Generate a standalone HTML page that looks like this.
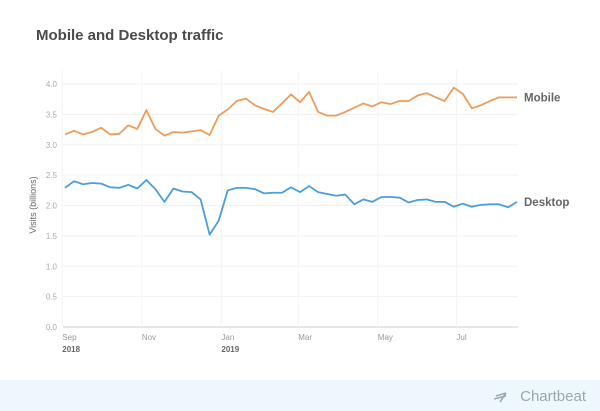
<!DOCTYPE html>
<html><head><meta charset="utf-8"><style>
body{margin:0;background:#fff;font-family:"Liberation Sans",sans-serif;}
#wrap{position:relative;width:600px;height:411px;overflow:hidden;}
</style></head><body>
<div id="wrap">
<svg id="chart" width="600" height="411">
<rect x="0" y="380" width="600" height="31" fill="#eef8fc"/>
<text x="36" y="40" font-size="15" font-weight="bold" fill="#4a4a4a">Mobile and Desktop traffic</text>
<text transform="translate(36,205) rotate(-90)" text-anchor="middle" font-size="9" fill="#666">Visits (billions)</text>
<g id="grid"></g><g id="series"></g>
<text x="586" y="401" text-anchor="end" font-size="15" fill="#9aa7ad">Chartbeat</text>
<path d="M496 396 l10 -3 M494 399 l12 -3 M500 402 l6 -9" stroke="#9aa7ad" stroke-width="1.6" fill="none"/>
</svg>
</div>
<script>
const mobile=[3.17,3.23,3.17,3.21,3.28,3.17,3.18,3.32,3.26,3.57,3.26,3.15,3.21,3.20,3.22,3.24,3.16,3.48,3.58,3.72,3.76,3.65,3.59,3.54,3.68,3.83,3.70,3.87,3.54,3.48,3.48,3.54,3.61,3.68,3.63,3.70,3.67,3.72,3.72,3.81,3.85,3.78,3.72,3.94,3.84,3.60,3.65,3.72,3.78,3.78,3.78];
const desktop=[2.29,2.40,2.35,2.37,2.36,2.30,2.29,2.34,2.28,2.42,2.27,2.06,2.28,2.23,2.22,2.10,1.52,1.75,2.25,2.29,2.29,2.27,2.20,2.21,2.21,2.30,2.22,2.32,2.22,2.19,2.16,2.18,2.02,2.10,2.06,2.14,2.14,2.13,2.05,2.09,2.10,2.06,2.06,1.98,2.03,1.98,2.01,2.02,2.02,1.97,2.06];
const yTicks=[0,0.5,1,1.5,2,2.5,3,3.5,4];
const monthLabels=["Sep","Nov","Jan","Mar","May","Jul"];
const monthWeeks=[-0.3,8.5,17.3,25.8,34.6,43.3];
const yearLabels=["2018","","2019","","",""];
const NS="http://www.w3.org/2000/svg";
const x=i=>65+i*(452/(mobile.length-1));
const y=v=>327-v*60.75;
const grid=document.getElementById('grid'),ser=document.getElementById('series');
function mk(tag,attrs,parent){const e=document.createElementNS(NS,tag);for(const k in attrs)e.setAttribute(k,attrs[k]);parent.appendChild(e);return e;}
yTicks.forEach(t=>{
  const l=mk('line',{x1:63,x2:518,y1:y(t),y2:y(t),stroke:t===0?'#ccc':'#f0f0f0','stroke-width':1},grid);
  
  
  const tx=mk('text',{x:57,y:y(t)+3,'text-anchor':'end','font-size':8,fill:'#aaa'},grid);
  tx.textContent=t.toFixed(1);
  
  
});
monthWeeks.forEach((w,k)=>{
  const vl=mk('line',{x1:x(w),x2:x(w),y1:70,y2:327,stroke:'#f4f4f4','stroke-width':1},grid);
  
  
  const t=mk('text',{x:x(w),y:340,'font-size':8,fill:'#999'},grid);
  t.textContent=monthLabels[k];
  
  
  if(yearLabels[k]){const yt=mk('text',{x:x(w),y:352,'font-size':8,'font-weight':'bold',fill:'#666'},grid);
  yt.textContent=yearLabels[k];
  
  }
});
function line(data,color,name,label){
  const p=mk('polyline',{points:data.map((v,i)=>x(i)+','+y(v)).join(' '),fill:'none',stroke:color,'stroke-width':1.8,'stroke-linejoin':'round'},ser);
  
  
  const t=mk('text',{x:524,y:y(data[data.length-1])+4,'font-size':11.5,'font-weight':'bold',fill:'#666'},ser);
  t.textContent=label;
  
  
}
line(mobile,'#ef9c5a','mobile','Mobile');
line(desktop,'#4a9ee0','desktop','Desktop');
</script>
</body></html>
